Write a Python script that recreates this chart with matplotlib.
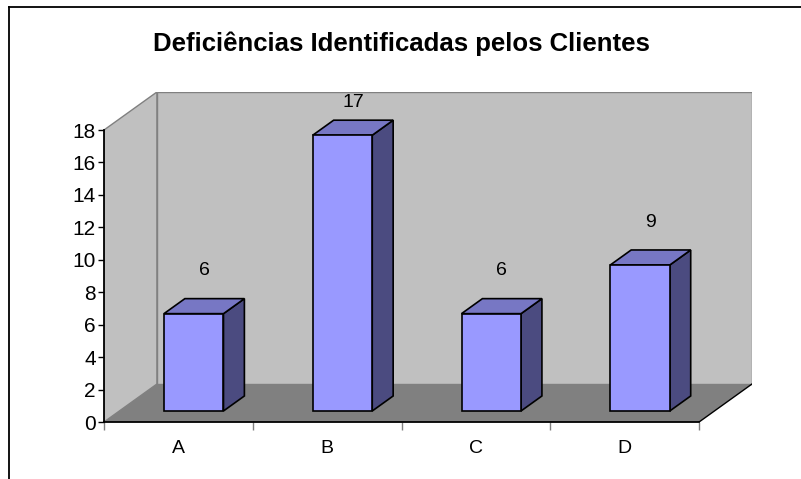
import matplotlib.pyplot as plt
from matplotlib.patches import Polygon, Rectangle
from matplotlib.lines import Line2D

categories = ['A', 'B', 'C', 'D']
values = [6, 17, 6, 9]
y_ticks = [0, 2, 4, 6, 8, 10, 12, 14, 16, 18]

plt.rcParams['font.family'] = ['Liberation Sans', 'DejaVu Sans']

W, H = 801, 479
fig = plt.figure(figsize=(W / 100, H / 100), dpi=100)
fig.patch.set_facecolor('white')

# oblique 3d offset of the back wall, in data units (x: categories, y: values)
DX = 0.3557
DY = 2.3425
YMAX = 18

ax = fig.add_axes([104 / W, (H - 422) / H, (752 - 104) / W, (422 - 92) / H])
ax.set_xlim(0, len(categories) + DX)
ax.set_ylim(0, YMAX + DY)
ax.patch.set_alpha(0)
for s in ax.spines.values():
    s.set_visible(False)

nc = len(categories)
wall_edge = '#808080'

# side wall, back wall, floor
ax.add_patch(Polygon([(0, 0), (DX, DY), (DX, YMAX + DY), (0, YMAX)],
                     closed=True, facecolor='#C0C0C0', edgecolor=wall_edge, lw=1, zorder=1))
ax.add_patch(Rectangle((DX, DY), nc, YMAX, facecolor='#C0C0C0',
                       edgecolor=wall_edge, lw=1, zorder=1))
ax.add_patch(Polygon([(0, 0), (nc, 0), (nc + DX, DY), (DX, DY)],
                     closed=True, facecolor='#808080', edgecolor='none', zorder=2))
ax.add_line(Line2D([nc, nc + DX], [0, DY], color='black', lw=1, zorder=2))

# columns
width = 0.40
d0, d1 = 0.29, 0.685
for i, v in enumerate(values):
    x0 = i + 0.5 - width / 2 + d0 * DX
    y0 = d0 * DY
    ddx = (d1 - d0) * DX
    ddy = (d1 - d0) * DY
    front = [(x0, y0), (x0 + width, y0), (x0 + width, y0 + v), (x0, y0 + v)]
    top = [(x0, y0 + v), (x0 + width, y0 + v),
           (x0 + width + ddx, y0 + v + ddy), (x0 + ddx, y0 + v + ddy)]
    side = [(x0 + width, y0), (x0 + width + ddx, y0 + ddy),
            (x0 + width + ddx, y0 + v + ddy), (x0 + width, y0 + v)]
    ax.add_patch(Polygon(side, closed=True, facecolor='#4B4B80', edgecolor='black', lw=1.2, zorder=3))
    ax.add_patch(Polygon(top, closed=True, facecolor='#7777C4', edgecolor='black', lw=1.2, zorder=3))
    ax.add_patch(Polygon(front, closed=True, facecolor='#9999FF', edgecolor='black', lw=1.2, zorder=4))
    # value label above the column, kept inside the plot area
    ly = min(v + (d0 + d1) / 2 * DY + 2.17, 19.7)
    ax.text(x0 + width / 2 + ddx / 2, ly, str(v), ha='center', va='center',
            fontsize=14, color='black', zorder=5)

# front axes lines
ax.add_line(Line2D([0, 0], [0, YMAX], color='black', lw=1.3, zorder=5, clip_on=False))
ax.add_line(Line2D([0, nc], [0, 0], color='black', lw=1.3, zorder=5, clip_on=False))

ax.set_yticks(y_ticks)
ax.set_yticklabels([str(t) for t in y_ticks], fontsize=15)
ax.tick_params(axis='y', direction='out', length=4, width=1, pad=2)

ax.set_xticks(range(nc + 1))
ax.set_xticklabels([])
ax.tick_params(axis='x', which='major', direction='out', length=6, width=1, color='#808080')
ax.set_xticks([i + 0.5 for i in range(nc)], minor=True)
ax.set_xticklabels(categories, minor=True, fontsize=14)
ax.tick_params(axis='x', which='minor', length=0, pad=13)

fig.text(401 / W, 1 - 44 / H, 'Deficiências Identificadas pelos Clientes',
         ha='center', va='center', fontsize=18.5, fontweight='bold')

# chart area border (top and left edges visible)
fig.add_artist(Line2D([8.5 / W, 1], [1 - 6.5 / H, 1 - 6.5 / H], color='black', lw=1.3,
                      transform=fig.transFigure))
fig.add_artist(Line2D([8.5 / W, 8.5 / W], [0, 1 - 6.5 / H], color='black', lw=1.3,
                      transform=fig.transFigure))

fig.savefig('out.png', dpi=100)
